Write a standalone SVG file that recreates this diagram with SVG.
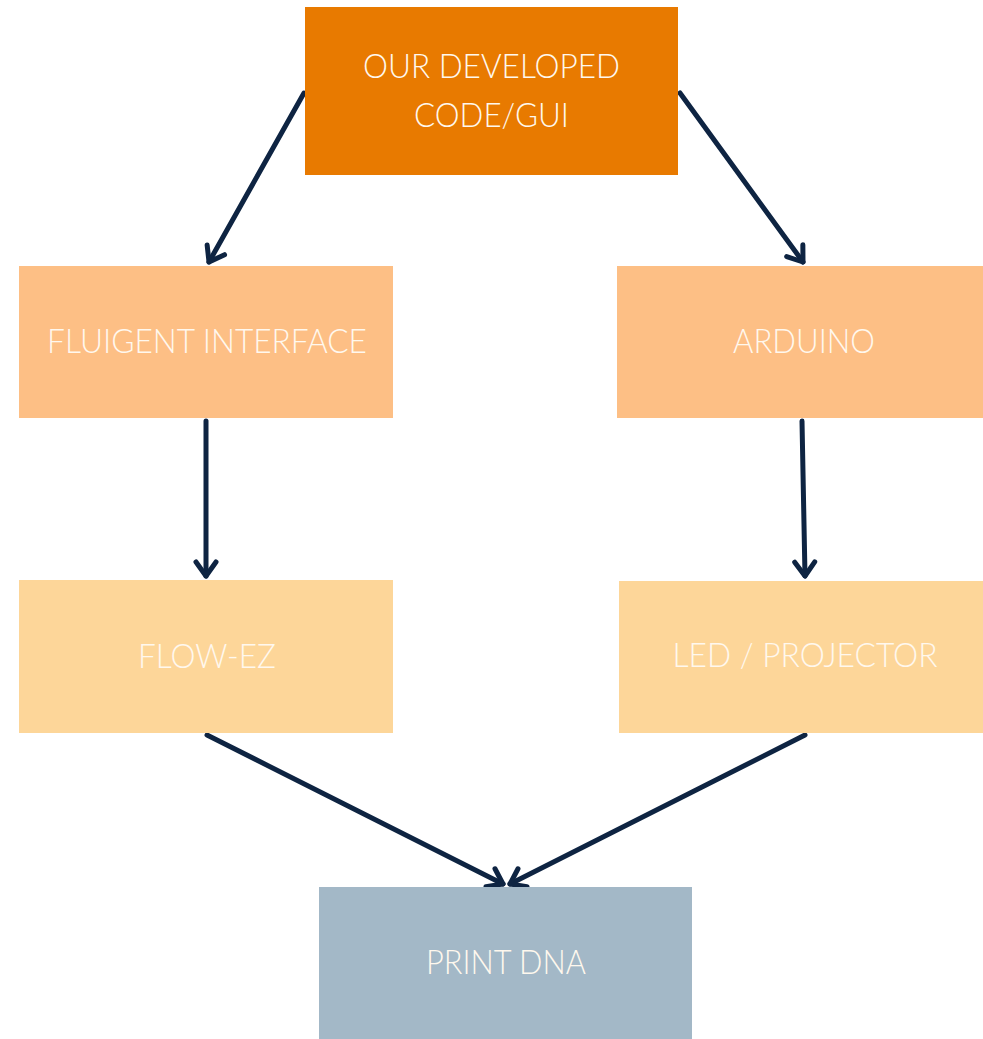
<svg xmlns="http://www.w3.org/2000/svg" width="983" height="1039" viewBox="0 0 983 1039">
<style>
.lbl{font-family:Lato,"Liberation Sans",sans-serif;font-weight:300;font-size:33px;fill:#FFF8EE;text-anchor:middle}
.edge{fill:none;stroke:#0E2442;stroke-width:5;stroke-linecap:round;stroke-linejoin:round}
</style>
<defs>
<marker id="arr" markerUnits="userSpaceOnUse" markerWidth="30" markerHeight="30" refX="20" refY="15" orient="auto" viewBox="0 0 30 30">
<path d="M6,5 L20,15 L6,25" fill="none" stroke="#0E2442" stroke-width="5" stroke-linecap="round" stroke-linejoin="round"/>
</marker>
</defs>
<rect width="983" height="1039" fill="#FFFFFF"/>
<g id="connectors">
<path class="edge" d="M304,93 L209,262" marker-end="url(#arr)"/>
<path class="edge" d="M680,93 L803,262" marker-end="url(#arr)"/>
<path class="edge" d="M206,421 L206,576" marker-end="url(#arr)"/>
<path class="edge" d="M802,421 L805,576" marker-end="url(#arr)"/>
<path class="edge" d="M207,735 L503,884" marker-end="url(#arr)"/>
<path class="edge" d="M805,735 L510,884" marker-end="url(#arr)"/>
</g>
<g id="code">
<rect x="305" y="7" width="373" height="168" fill="#E87A00"/>
<text class="lbl" x="491.5" y="78" textLength="257" lengthAdjust="spacingAndGlyphs">OUR DEVELOPED</text>
<text class="lbl" x="491.5" y="127" textLength="155" lengthAdjust="spacingAndGlyphs">CODE/GUI</text>
</g>
<g id="fluigent">
<rect x="19" y="266" width="374" height="152" fill="#FDBF85"/>
<text class="lbl" x="207" y="353" textLength="320" lengthAdjust="spacingAndGlyphs">FLUIGENT INTERFACE</text>
</g>
<g id="arduino">
<rect x="617" y="266" width="366" height="152" fill="#FDBF85"/>
<text class="lbl" x="804" y="353" textLength="142" lengthAdjust="spacingAndGlyphs">ARDUINO</text>
</g>
<g id="flowez">
<rect x="19" y="580" width="374" height="153" fill="#FDD699"/>
<text class="lbl" x="207" y="668" textLength="138" lengthAdjust="spacingAndGlyphs">FLOW-EZ</text>
</g>
<g id="led">
<rect x="619" y="581" width="364" height="152" fill="#FDD699"/>
<text class="lbl" x="805" y="667" textLength="265" lengthAdjust="spacingAndGlyphs">LED / PROJECTOR</text>
</g>
<g id="print">
<rect x="319" y="887" width="373" height="152" fill="#A3B8C7"/>
<text class="lbl" x="506" y="974" textLength="160" lengthAdjust="spacingAndGlyphs">PRINT DNA</text>
</g>
</svg>
